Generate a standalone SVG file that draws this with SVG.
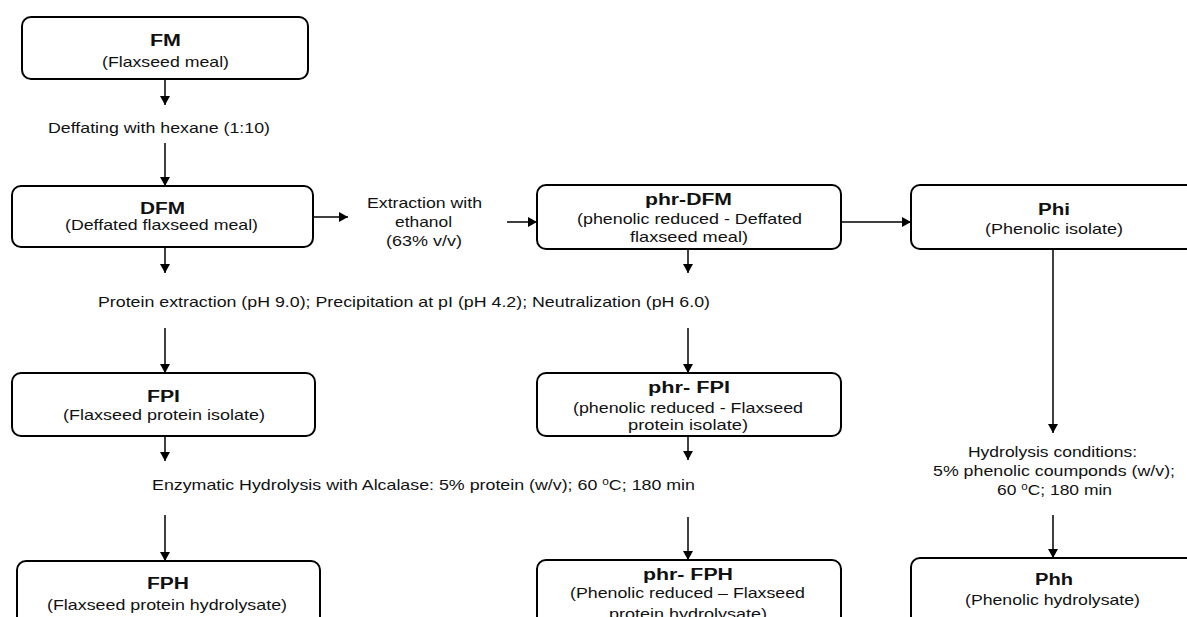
<svg xmlns="http://www.w3.org/2000/svg" width="1187" height="617" viewBox="0 0 1187 617">
<defs>
<marker id="ah" viewBox="0 0 9 10" refX="9" refY="5" markerWidth="9" markerHeight="10" markerUnits="userSpaceOnUse" orient="auto">
<path d="M0,0 L9,5 L0,10 z" fill="#000"/>
</marker>
</defs>
<style>
.box{fill:#fff;stroke:#000;stroke-width:2}
.t{font-family:"Liberation Sans",Arial,sans-serif;font-weight:bold;font-size:16px;fill:#111}
.s{font-family:"Liberation Sans",Arial,sans-serif;font-size:15px;fill:#111}
.c line{stroke:#000;stroke-width:1.5;marker-end:url(#ah)}
</style>
<rect width="1187" height="617" fill="#fff"/>

<g class="c" id="connectors">
<line x1="165" y1="79" x2="165" y2="105"/>
<line x1="165" y1="143" x2="165" y2="186"/>
<line x1="165" y1="247" x2="165" y2="273"/>
<line x1="165" y1="328" x2="165" y2="373"/>
<line x1="165" y1="436" x2="165" y2="461"/>
<line x1="165" y1="515" x2="165" y2="561"/>
<line x1="313" y1="217" x2="348" y2="217"/>
<line x1="507" y1="222" x2="537" y2="222"/>
<line x1="841" y1="222" x2="911" y2="222"/>
<line x1="688" y1="249" x2="688" y2="273"/>
<line x1="688" y1="328" x2="688" y2="373"/>
<line x1="688" y1="436" x2="688" y2="460"/>
<line x1="688" y1="517" x2="688" y2="560"/>
<line x1="1053" y1="249" x2="1053" y2="433"/>
<line x1="1053" y1="515" x2="1053" y2="558"/>
</g>

<g id="labels">
<text class="s" x="48" y="133" textLength="222" lengthAdjust="spacingAndGlyphs">Deffating with hexane (1:10)</text>
<text class="s" x="367" y="208" textLength="115" lengthAdjust="spacingAndGlyphs">Extraction with</text>
<text class="s" x="395" y="227" textLength="57" lengthAdjust="spacingAndGlyphs">ethanol</text>
<text class="s" x="386" y="246" textLength="76" lengthAdjust="spacingAndGlyphs">(63% v/v)</text>
<text class="s" x="98" y="307" textLength="612" lengthAdjust="spacingAndGlyphs">Protein extraction (pH 9.0); Precipitation at pI (pH 4.2); Neutralization (pH 6.0)</text>
<text class="s" x="152" y="490" textLength="543" lengthAdjust="spacingAndGlyphs">Enzymatic Hydrolysis with Alcalase: 5% protein (w/v); 60 <tspan font-size="10" dy="-5">o</tspan><tspan dy="5">C; 180 min</tspan></text>
<text class="s" x="968" y="457" textLength="169" lengthAdjust="spacingAndGlyphs">Hydrolysis conditions:</text>
<text class="s" x="933" y="476" textLength="242" lengthAdjust="spacingAndGlyphs">5% phenolic coumponds (w/v);</text>
<text class="s" x="997" y="495" textLength="115" lengthAdjust="spacingAndGlyphs">60 <tspan font-size="10" dy="-5">o</tspan><tspan dy="5">C; 180 min</tspan></text>
</g>

<g id="FM">
<rect class="box" x="22" y="17" width="286" height="62" rx="9"/>
<text class="t" x="150" y="46" textLength="31" lengthAdjust="spacingAndGlyphs">FM</text>
<text class="s" x="102" y="67" textLength="127" lengthAdjust="spacingAndGlyphs">(Flaxseed meal)</text>
</g>

<g id="DFM">
<rect class="box" x="12" y="186" width="301" height="61" rx="9"/>
<text class="t" x="140" y="214" textLength="45" lengthAdjust="spacingAndGlyphs">DFM</text>
<text class="s" x="65" y="230" textLength="193" lengthAdjust="spacingAndGlyphs">(Deffated flaxseed meal)</text>
</g>

<g id="phr-DFM">
<rect class="box" x="537" y="185" width="304" height="64" rx="9"/>
<text class="t" x="645" y="205" textLength="87" lengthAdjust="spacingAndGlyphs">phr-DFM</text>
<text class="s" x="577" y="224" textLength="225" lengthAdjust="spacingAndGlyphs">(phenolic reduced - Deffated</text>
<text class="s" x="630" y="242" textLength="118" lengthAdjust="spacingAndGlyphs">flaxseed meal)</text>
</g>

<g id="Phi">
<rect class="box" x="911" y="185" width="292" height="64" rx="9"/>
<text class="t" x="1038" y="215" textLength="32" lengthAdjust="spacingAndGlyphs">Phi</text>
<text class="s" x="985" y="234" textLength="138" lengthAdjust="spacingAndGlyphs">(Phenolic isolate)</text>
</g>

<g id="FPI">
<rect class="box" x="12" y="373" width="303" height="63" rx="9"/>
<text class="t" x="147" y="402" textLength="33" lengthAdjust="spacingAndGlyphs">FPI</text>
<text class="s" x="63" y="420" textLength="202" lengthAdjust="spacingAndGlyphs">(Flaxseed protein isolate)</text>
</g>

<g id="phr-FPI">
<rect class="box" x="537" y="373" width="304" height="63" rx="9"/>
<text class="t" x="648" y="393" textLength="82" lengthAdjust="spacingAndGlyphs">phr- FPI</text>
<text class="s" x="573" y="413" textLength="230" lengthAdjust="spacingAndGlyphs">(phenolic reduced - Flaxseed</text>
<text class="s" x="628" y="430" textLength="120" lengthAdjust="spacingAndGlyphs">protein isolate)</text>
</g>

<g id="FPH">
<rect class="box" x="17" y="561" width="303" height="70" rx="9"/>
<text class="t" x="147" y="589" textLength="42" lengthAdjust="spacingAndGlyphs">FPH</text>
<text class="s" x="47" y="610" textLength="240" lengthAdjust="spacingAndGlyphs">(Flaxseed protein hydrolysate)</text>
</g>

<g id="phr-FPH">
<rect class="box" x="537" y="560" width="304" height="70" rx="9"/>
<text class="t" x="643" y="580" textLength="90" lengthAdjust="spacingAndGlyphs">phr- FPH</text>
<text class="s" x="570" y="598" textLength="235" lengthAdjust="spacingAndGlyphs">(Phenolic reduced – Flaxseed</text>
<text class="s" x="609" y="619" textLength="158" lengthAdjust="spacingAndGlyphs">protein hydrolysate)</text>
</g>

<g id="Phh">
<rect class="box" x="911" y="558" width="292" height="70" rx="9"/>
<text class="t" x="1035" y="585" textLength="38" lengthAdjust="spacingAndGlyphs">Phh</text>
<text class="s" x="965" y="605" textLength="175" lengthAdjust="spacingAndGlyphs">(Phenolic hydrolysate)</text>
</g>
</svg>
